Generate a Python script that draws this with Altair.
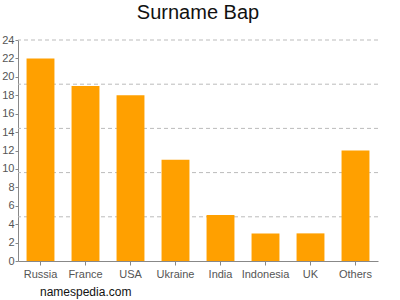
import altair as alt
import pandas as pd

countries = ["Russia", "France", "USA", "Ukraine", "India", "Indonesia", "UK", "Others"]
counts = [22, 19, 18, 11, 5, 3, 3, 12]
grid_values = [4.8, 9.6, 14.4, 19.2, 24]
y_ticks = list(range(0, 25, 2))

df = pd.DataFrame({"country": countries, "count": counts})
grid_df = pd.DataFrame({"g": grid_values})

FONT = "Liberation Sans"

x_enc = alt.X("country:N", sort=countries, title=None,
              scale=alt.Scale(paddingInner=0.38, paddingOuter=0.19),
              axis=alt.Axis(labelAngle=0, labelColor="#555555", labelFontSize=11, labelFont=FONT,
                            domainColor="#888888", tickColor="#888888", tickSize=4, labelPadding=3))
y_scale = alt.Scale(domain=[0, 24], nice=False)
y_axis = alt.Axis(values=y_ticks, grid=False, labelColor="#555555", labelFontSize=11,
                  labelFont=FONT, domainColor="#888888", tickColor="#888888",
                  tickSize=3, labelPadding=1, labelOverlap=False)

bars = alt.Chart(df).mark_bar(color="#FFA000").encode(
    x=x_enc,
    y=alt.Y("count:Q", scale=y_scale, title=None, axis=y_axis),
)

grid = alt.Chart(grid_df).mark_rule(color="#BBBBBB", strokeDash=[4, 3], strokeWidth=1).encode(
    y=alt.Y("g:Q", scale=y_scale, title=None, axis=y_axis),
)

footer = alt.Chart(pd.DataFrame({"t": ["namespedia.com"]})).mark_text(
    align="left", baseline="middle", fontSize=12, font=FONT, color="#111111"
).encode(text="t:N", x=alt.value(22), y=alt.value(252))

chart = alt.layer(grid, bars, footer).properties(
    width=360, height=221,
    title=alt.TitleParams("Surname Bap", fontSize=20, font=FONT, fontWeight="normal",
                          color="#111111", anchor="middle", offset=11),
    autosize=alt.AutoSizeParams(type="none"),
    padding={"left": 18, "top": 40, "right": 22, "bottom": 39},
).configure_view(stroke=None)

chart.save("out.html", embed_options={"renderer": "svg", "actions": False})
